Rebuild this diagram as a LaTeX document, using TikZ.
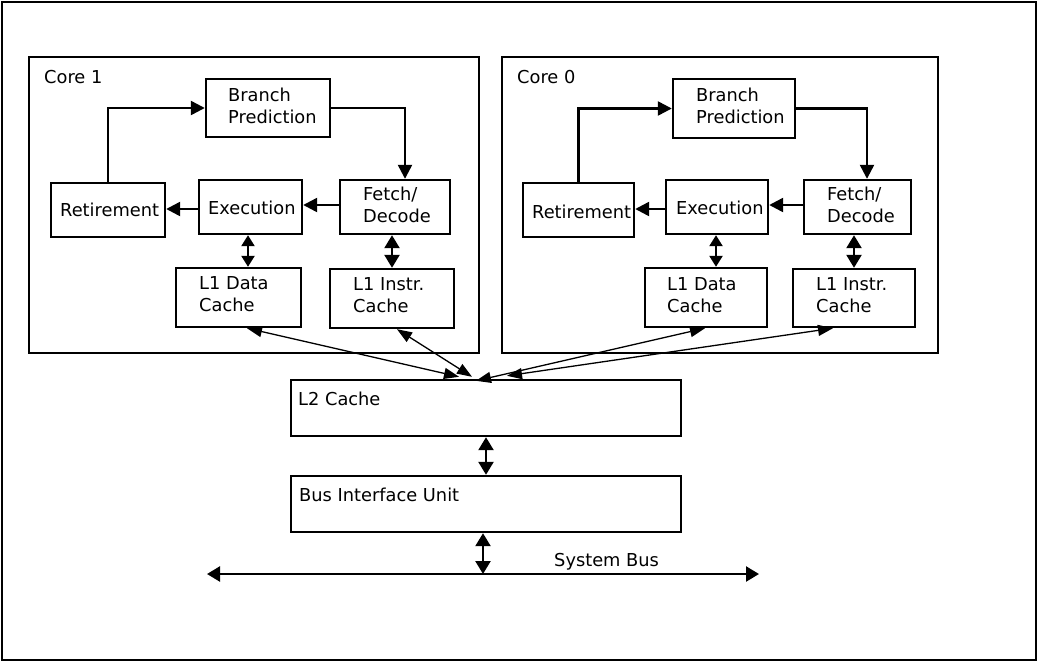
\documentclass[tikz,border=0pt]{standalone}
\usepackage{fontspec}
\setmainfont{DejaVu Sans}
\usetikzlibrary{arrows.meta}
\begin{document}
\begin{tikzpicture}[x=1pt,y=-1pt,
  box/.style={draw,line width=2.4pt,inner sep=0pt},
  lbl/.style={anchor=west,align=left,inner sep=0pt,font=\fontsize{17.8}{22}\selectfont},
  arr/.style={line width=2.4pt,-{Triangle[length=14pt,width=14pt]}},
  dbl/.style={line width=2.4pt,{Triangle[length=11pt,width=13pt]}-{Triangle[length=11pt,width=13pt]}},
  dblbig/.style={line width=2.4pt,{Triangle[length=13pt,width=15pt]}-{Triangle[length=13pt,width=15pt]}},
  diag/.style={line width=1.3pt,{Triangle[length=15pt,width=11pt]}-{Triangle[length=15pt,width=11pt]}}]
\useasboundingbox (0,0) rectangle (1039,662);
\fill[white] (0,0) rectangle (1039,662);
% frames
\node[box,minimum width=1034pt,minimum height=658pt] (frame) at (519,331) {};
\node[box,minimum width=450pt,minimum height=296pt] (core1) at (254,205) {};
\node[box,minimum width=436pt,minimum height=296pt] (core0) at (720,205) {};
\node[lbl] (c1lbl) at (44,77) {Core 1};
\node[lbl] (c0lbl) at (517,77) {Core 0};
% core 1
\node[box,minimum width=124pt,minimum height=58pt] (bp1) at (268,108) {};
\node[box,minimum width=114pt,minimum height=54pt] (ret1) at (108,210) {};
\node[box,minimum width=103pt,minimum height=54pt] (exe1) at (250.5,207) {};
\node[box,minimum width=110pt,minimum height=54pt] (fd1) at (395,207) {};
\node[box,minimum width=125pt,minimum height=59pt] (l1d1) at (238.5,297.5) {};
\node[box,minimum width=124pt,minimum height=59pt] (l1i1) at (392,298.5) {};
\node[lbl] (bp1t) at (228,106) {Branch\\Prediction};
\node[lbl] (ret1t) at (60,210) {Retirement};
\node[lbl] (exe1t) at (208,208) {Execution};
\node[lbl] (fd1t) at (363,204.5) {Fetch/\\Decode};
\node[lbl] (l1d1t) at (199,294.5) {L1 Data\\Cache};
\node[lbl] (l1i1t) at (353,295.5) {L1 Instr.\\Cache};
% core 0
\node[box,minimum width=122pt,minimum height=59pt] (bp0) at (734,108.5) {};
\node[box,minimum width=111pt,minimum height=54pt] (ret0) at (578.5,210) {};
\node[box,minimum width=102pt,minimum height=54pt] (exe0) at (717,207) {};
\node[box,minimum width=107pt,minimum height=54pt] (fd0) at (857.5,207) {};
\node[box,minimum width=122pt,minimum height=59pt] (l1d0) at (706,297.5) {};
\node[box,minimum width=122pt,minimum height=58pt] (l1i0) at (854,298) {};
\node[lbl] (bp0t) at (696,105.5) {Branch\\Prediction};
\node[lbl] (ret0t) at (532,212) {Retirement};
\node[lbl] (exe0t) at (676,208) {Execution};
\node[lbl] (fd0t) at (827,204.5) {Fetch/\\Decode};
\node[lbl] (l1d0t) at (667,295.5) {L1 Data\\Cache};
\node[lbl] (l1i0t) at (816,295.5) {L1 Instr.\\Cache};
% L2, BIU, bus
\node[box,minimum width=390pt,minimum height=56pt] (l2) at (486,408) {};
\node[box,minimum width=390pt,minimum height=56pt] (biu) at (486,504) {};
\node[lbl] (l2t) at (298,399) {L2 Cache};
\node[lbl] (biut) at (299,495) {Bus Interface Unit};
\coordinate (busL) at (207,574);
\coordinate (busR) at (759,574);
\node[lbl] (bust) at (554,562) {System Bus};
% core 1 connectors
\draw[arr] (ret1.north) |- (bp1.west);
\draw[arr] (bp1.east) -| ([xshift=10pt]fd1.north);
\draw[arr] ([yshift=2pt]fd1.west) -- ([yshift=2pt]exe1.east);
\draw[arr] ([yshift=-2pt]exe1.west) -- ([yshift=1pt]ret1.east);
\draw[dbl] ([xshift=-2.5pt]exe1.south) -- ([xshift=-2.5pt]exe1.south |- l1d1.north);
\draw[dblbig] (l1i1.north |- fd1.south) -- (l1i1.north);
% core 0 connectors
\draw[arr] (ret0.north) |- (bp0.west);
\draw[arr] (bp0.east) -| ([xshift=9.5pt]fd0.north);
\draw[arr] ([yshift=2pt]fd0.west) -- ([yshift=2pt]exe0.east);
\draw[arr] ([yshift=-2pt]exe0.west) -- ([yshift=1pt]ret0.east);
\draw[dbl] ([xshift=-1pt]exe0.south) -- ([xshift=-1pt]exe0.south |- l1d0.north);
\draw[dblbig] (l1i0.north |- fd0.south) -- (l1i0.north);
% diagonals to L2
\draw[diag] ([xshift=8.5pt]l1d1.south) -- ([xshift=-27pt,yshift=2pt]l2.north);
\draw[diag] ([xshift=5pt]l1i1.south) -- ([xshift=-14pt,yshift=2pt]l2.north);
\draw[diag] ([xshift=-1pt]l1d0.south) -- ([xshift=-10pt,yshift=-2pt]l2.north);
\draw[diag] ([xshift=-21pt]l1i0.south) -- ([xshift=21pt,yshift=3pt]l2.north);
% L2 - BIU - bus
\draw[dblbig] (l2.south) -- (biu.north);
\draw[dblbig] ([xshift=-3pt]biu.south) -- ([xshift=-3pt]biu.south |- busL);
\draw[dblbig] (busL) -- (busR);
\end{tikzpicture}
\end{document}
